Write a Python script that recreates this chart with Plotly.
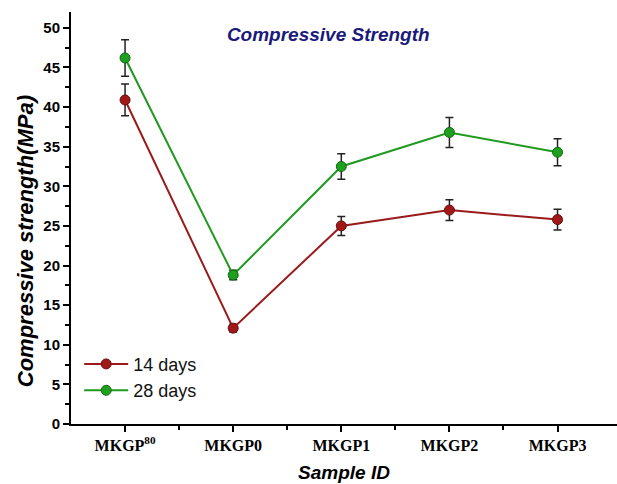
import plotly.graph_objects as go

categories = ["MKGP<sup>80</sup>", "MKGP0", "MKGP1", "MKGP2", "MKGP3"]
days14 = [40.9, 12.1, 25.0, 27.0, 25.8]
err14 = [2.0, 0.5, 1.2, 1.3, 1.3]
days28 = [46.2, 18.8, 32.5, 36.8, 34.3]
err28 = [2.3, 0.6, 1.6, 1.9, 1.7]
yticks = [0, 5, 10, 15, 20, 25, 30, 35, 40, 45, 50]

xpos = list(range(len(categories)))

fig = go.Figure()
fig.add_trace(go.Scatter(
    x=xpos, y=days14, name="14 days", mode="lines+markers",
    line=dict(color="#9a1b1b", width=2),
    marker=dict(size=10, color="#a01818", line=dict(color="#6a0d0d", width=1)),
    error_y=dict(type="data", array=err14, color="#222222", thickness=1.5, width=4),
))
fig.add_trace(go.Scatter(
    x=xpos, y=days28, name="28 days", mode="lines+markers",
    line=dict(color="#1f9a1f", width=2),
    marker=dict(size=10, color="#1ea01e", line=dict(color="#0f6a0f", width=1)),
    error_y=dict(type="data", array=err28, color="#222222", thickness=1.5, width=4),
))

fig.update_layout(
    width=617, height=484,
    margin=dict(l=71, r=0, t=12, b=60),
    paper_bgcolor="white", plot_bgcolor="white",
    title=dict(text="<b><i>Compressive Strength</i></b>", x=0.532, xanchor="center",
               y=0.928, yanchor="middle",
               font=dict(family="Liberation Sans, Arial", size=19, color="#1a1a7a")),
    legend=dict(x=0.015, y=0.19, xanchor="left", yanchor="top",
                font=dict(family="Liberation Sans, Arial", size=18, color="#111111"),
                bgcolor="rgba(0,0,0,0)", tracegroupgap=0, itemwidth=44),
    showlegend=True,
    annotations=[dict(
        text="<b><i>Compressive strength(MPa)</i></b>", textangle=-90,
        xref="paper", yref="paper", x=-0.084, y=0.444,
        xanchor="center", yanchor="middle", showarrow=False,
        font=dict(family="Liberation Sans, Arial", size=22, color="black"),
    )],
)
fig.update_xaxes(
    range=[-0.5, 4.55], tickmode="array", tickvals=xpos, ticktext=categories,
    showline=True, linecolor="black", linewidth=2, showgrid=False, zeroline=False,
    ticks="outside", ticklen=6, tickwidth=2, tickcolor="black",
    minor=dict(tickmode="array", tickvals=[0.5, 1.5, 2.5, 3.5], ticks="outside",
               ticklen=4, tickwidth=2, tickcolor="black", showgrid=False),
    tickfont=dict(family="Liberation Serif, Times New Roman", size=16, color="black", weight="bold"),
    title=dict(text="<b><i>Sample ID</i></b>", standoff=12,
               font=dict(family="Liberation Sans, Arial", size=19, color="black")),
)
fig.update_yaxes(
    range=[0, 52], tickmode="array", tickvals=yticks,
    showline=True, linecolor="black", linewidth=2, showgrid=False, zeroline=False,
    ticks="outside", ticklen=6, tickwidth=2, tickcolor="black",
    minor=dict(tickmode="linear", tick0=2.5, dtick=5, ticks="outside",
               ticklen=4, tickwidth=2, tickcolor="black", showgrid=False),
    tickfont=dict(family="Liberation Sans, Arial", size=15, color="black", weight="bold"),
)

fig.write_html("out.html")
